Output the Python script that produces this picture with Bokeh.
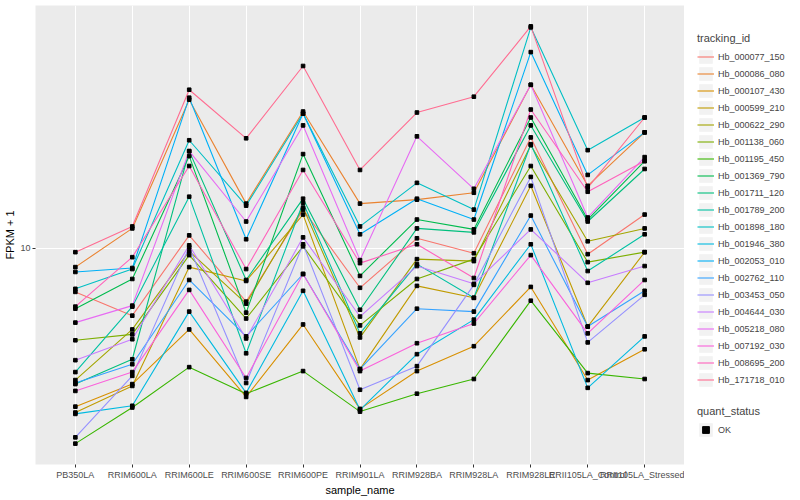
import numpy as np
from bokeh.plotting import figure
from bokeh.models import (FactorRange, Range1d, FixedTicker, PrintfTickFormatter,
                          Legend, LegendItem)
from bokeh.layouts import row
from bokeh.embed import file_html
from bokeh.resources import INLINE

samples = ["PB350LA", "RRIM600LA", "RRIM600LE", "RRIM600SE", "RRIM600PE",
           "RRIM901LA", "RRIM928BA", "RRIM928LA", "RRIM928LE",
           "RRII105LA_Control", "RRII105LA_Stressed"]

tracking_ids = ["Hb_000077_150", "Hb_000086_080", "Hb_000107_430", "Hb_000599_210",
                "Hb_000622_290", "Hb_001138_060", "Hb_001195_450", "Hb_001369_790",
                "Hb_001711_120", "Hb_001789_200", "Hb_001898_180", "Hb_001946_380",
                "Hb_002053_010", "Hb_002762_110", "Hb_003453_050", "Hb_004644_030",
                "Hb_005218_080", "Hb_007192_030", "Hb_008695_200", "Hb_171718_010"]

colors = ["#F8766D", "#EA8331", "#D89000", "#C09B00", "#A3A500", "#7CAE00",
          "#39B600", "#00BB4E", "#00BF7D", "#00C1A3", "#00BFC4", "#00BAE0",
          "#00B0F6", "#35A2FF", "#9590FF", "#C77CFF", "#E76BF3", "#FA62DB",
          "#FF62BC", "#FF6C91"]

# FPKM + 1, one list per gene, in the order of samples
hb_000077_150 = [7.13, 5.93, 11.05, 6.61, 13.49, 7.36, 10.80, 9.62, 23.60, 9.55, 12.98]
hb_000086_080 = [8.64, 11.66, 31.62, 14.13, 28.84, 14.13, 14.57, 15.37, 35.48, 16.22, 24.55]
hb_000107_430 = [2.93, 3.49, 5.33, 3.16, 5.54, 2.88, 3.86, 4.68, 7.41, 3.60, 4.57]
hb_000599_210 = [2.80, 3.44, 8.64, 7.76, 12.98, 3.92, 7.47, 6.81, 16.22, 5.45, 9.70]
hb_000622_290 = [3.60, 5.33, 9.77, 6.51, 13.70, 5.01, 9.19, 9.05, 22.22, 10.55, 11.66]
hb_001138_060 = [4.90, 5.13, 9.48, 5.80, 10.15, 5.50, 7.88, 9.19, 18.91, 8.98, 9.70]
hb_001195_450 = [2.20, 2.91, 3.98, 3.24, 3.86, 2.82, 3.24, 3.63, 6.66, 3.80, 3.63]
hb_001369_790 = [6.26, 7.88, 20.42, 6.07, 20.74, 8.07, 12.49, 11.57, 27.54, 12.49, 19.65]
hb_001711_120 = [3.49, 4.23, 21.22, 7.82, 14.68, 6.21, 11.66, 11.31, 25.90, 12.30, 18.48]
hb_001789_200 = [3.83, 6.36, 14.91, 4.43, 14.23, 5.17, 8.84, 6.81, 22.39, 8.38, 11.14]
hb_001898_180 = [7.30, 8.51, 23.09, 13.91, 28.40, 11.84, 16.60, 13.49, 55.38, 21.38, 27.54]
hb_001946_380 = [2.77, 2.95, 6.12, 3.26, 7.19, 2.86, 4.40, 5.75, 10.31, 3.39, 5.05]
hb_002053_010 = [8.32, 8.58, 32.11, 10.72, 28.40, 11.14, 14.68, 12.49, 45.71, 17.65, 24.55]
hb_002762_110 = [3.52, 4.07, 7.82, 5.05, 8.19, 3.92, 6.26, 6.12, 12.88, 5.45, 7.19]
hb_003453_050 = [2.31, 3.72, 10.08, 3.52, 10.31, 3.34, 4.01, 7.53, 17.38, 4.82, 6.97]
hb_004644_030 = [4.20, 4.94, 10.23, 4.97, 10.88, 5.89, 8.71, 7.59, 11.57, 7.65, 8.71]
hb_005218_080 = [5.62, 6.41, 21.22, 12.30, 25.90, 9.12, 23.80, 15.85, 35.48, 12.69, 20.26]
hb_007192_030 = [3.31, 3.83, 7.24, 3.66, 8.19, 3.86, 4.79, 5.58, 9.48, 5.17, 7.82]
hb_008695_200 = [6.36, 9.33, 18.91, 8.51, 18.34, 8.91, 10.31, 7.94, 29.29, 15.49, 19.65]
hb_171718_010 = [9.70, 11.84, 34.15, 23.44, 41.05, 18.34, 28.62, 32.36, 55.80, 15.97, 27.54]

series = [hb_000077_150, hb_000086_080, hb_000107_430, hb_000599_210, hb_000622_290,
          hb_001138_060, hb_001195_450, hb_001369_790, hb_001711_120, hb_001789_200,
          hb_001898_180, hb_001946_380, hb_002053_010, hb_002762_110, hb_003453_050,
          hb_004644_030, hb_005218_080, hb_007192_030, hb_008695_200, hb_171718_010]

quant_status = ["OK"]

FONT = "Liberation Sans"

# y range like ggplot: 5% expansion in log space
allv = np.log10(np.array(series, dtype=float))
lo, hi = allv.min(), allv.max()
span = hi - lo
y_range = Range1d(10 ** (lo - 0.05 * span), 10 ** (hi + 0.05 * span))

x_range = FactorRange(*samples, range_padding=0.2, range_padding_units="absolute")

p = figure(width=684, height=498, x_range=x_range, y_range=y_range,
           y_axis_type="log", output_backend="svg", toolbar_location=None,
           min_border_left=35, min_border_right=0, min_border_top=5,
           min_border_bottom=0)

p.background_fill_color = "#EBEBEB"
p.border_fill_color = "white"
p.outline_line_color = None

p.xgrid.grid_line_color = "white"
p.xgrid.grid_line_width = 1.1
p.ygrid.grid_line_color = "white"
p.ygrid.grid_line_width = 1.1
p.ygrid.minor_grid_line_color = None

p.yaxis.ticker = FixedTicker(ticks=[10], minor_ticks=[])
p.yaxis.formatter = PrintfTickFormatter(format="%d")

for ax in (p.xaxis[0], p.yaxis[0]):
    ax.axis_line_color = None
    ax.major_tick_line_color = "#333333"
    ax.major_tick_out = 3
    ax.major_tick_in = 0
    ax.minor_tick_line_color = None
    ax.major_label_text_font = FONT
    ax.major_label_text_font_size = "9px"
    ax.major_label_text_color = "#4D4D4D"
    ax.major_label_standoff = 2
    ax.axis_label_text_font = FONT
    ax.axis_label_text_font_size = "11px"
    ax.axis_label_text_font_style = "normal"
    ax.axis_label_text_color = "black"
    ax.axis_label_standoff = 1

p.xaxis.axis_label = "sample_name"
p.yaxis.axis_label = "FPKM + 1"

for vals, c in zip(series, colors):
    p.line(x=samples, y=vals, line_color=c, line_width=1.1)

px, py = [], []
for vals in series:
    px.extend(samples)
    py.extend(vals)
p.scatter(x=px, y=py, marker="square", size=3.6, color="black")

# legend panel: proxy renderers carry the series data but sit outside its ranges
lg = figure(width=114, height=498, x_range=Range1d(0, 1), y_range=Range1d(-2, -1),
            output_backend="svg", toolbar_location=None,
            x_axis_location=None, y_axis_location=None, min_border=0)
lg.grid.visible = False
lg.outline_line_color = None
lg.background_fill_color = "white"
lg.border_fill_color = "white"

idx = list(range(len(samples)))
key_r = lg.quad(left=[0], right=[1], top=[allv.max()], bottom=[allv.min()],
                fill_color="#F2F2F2", line_color=None)
items = []
for tid, vals, c in zip(tracking_ids, series, colors):
    r = lg.line(x=idx, y=vals, line_color=c, line_width=1.1)
    items.append(LegendItem(label=tid, renderers=[key_r, r]))

def style(leg):
    leg.glyph_width = 17
    leg.glyph_height = 17
    leg.label_height = 17
    leg.spacing = 0
    leg.padding = 0
    leg.margin = 0
    leg.label_standoff = 4
    leg.border_line_color = None
    leg.background_fill_alpha = 0
    leg.label_text_font = FONT
    leg.label_text_font_size = "9px"
    leg.label_text_baseline = "middle"
    leg.title_text_font = FONT
    leg.title_text_font_size = "11px"
    leg.title_text_font_style = "normal"
    leg.title_standoff = 4

leg1 = Legend(items=items, title="tracking_id", location=(13, 76))
style(leg1)
lg.add_layout(leg1)

sq_r = lg.scatter(x=idx, y=series[0], marker="square", color="black", size=4)
leg2 = Legend(items=[LegendItem(label=quant_status[0], renderers=[key_r, sq_r])],
              title="quant_status", location=(13, 26))
style(leg2)
lg.add_layout(leg2)

layout = row(p, lg)
open("out.html", "w").write(file_html(layout, INLINE))
